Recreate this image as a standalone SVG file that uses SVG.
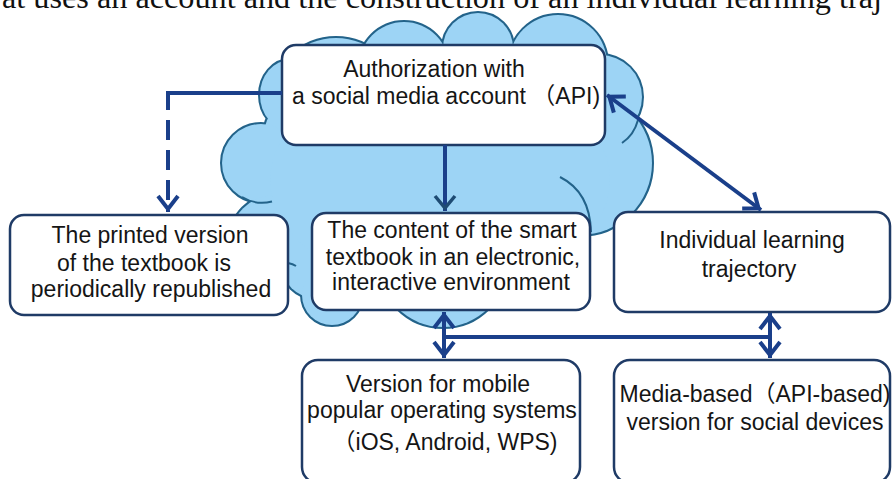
<svg xmlns="http://www.w3.org/2000/svg" xmlns:xlink="http://www.w3.org/1999/xlink" width="892" height="479" viewBox="0 0 892 479">
  <style>
    .box { fill: #ffffff; stroke: #1F3B66; stroke-width: 2.5; }
    .lbl { font-family: 'Liberation Sans', Arial, 'Noto Sans CJK SC', sans-serif; font-size: 23px; fill: #151515; text-anchor: middle; }
    .cl-edge { fill: #9DD4F5; stroke: #23638A; stroke-width: 4; }
    .cl-fill { fill: #9DD4F5; stroke: none; }
    .crease { fill: none; stroke: #23638A; stroke-width: 2; }
    .conn { fill: none; stroke: #1A3F8A; stroke-width: 4; }
  </style>
  <defs>
    <!-- overlapping lobes that make up the cloud -->
    <g id="cloudShapes">
      <circle cx="336" cy="102" r="64"/>
      <circle cx="404" cy="67" r="45"/>
      <circle cx="478" cy="48" r="35"/>
      <circle cx="558" cy="64" r="49"/>
      <circle cx="600" cy="97" r="42"/>
      <circle cx="580" cy="163" r="72"/>
      <ellipse cx="290" cy="95" rx="30" ry="35"/>
      <circle cx="290" cy="130" r="25"/>
      <circle cx="261" cy="163" r="39"/>
      <circle cx="275" cy="240" r="45"/>
      <circle cx="315" cy="265" r="33"/>
      <circle cx="332" cy="295" r="30"/>
      <circle cx="443" cy="263" r="64"/>
      <ellipse cx="440" cy="180" rx="170" ry="110"/>
    </g>
    <marker id="ah" markerUnits="userSpaceOnUse" viewBox="-20 -14 24 28" refX="0" refY="0" markerWidth="24" markerHeight="28" orient="auto-start-reverse" overflow="visible">
      <path d="M-16,-10 L-3,0 L-16,10" fill="none" stroke="#1A3F8A" stroke-width="4"/>
    </marker>
    <marker id="ah-teal" markerUnits="userSpaceOnUse" viewBox="-20 -14 24 28" refX="0" refY="0" markerWidth="24" markerHeight="28" orient="auto-start-reverse" overflow="visible">
      <path d="M-15,-10 L-3,0 L-15,10" fill="none" stroke="#1E4B73" stroke-width="3.5"/>
    </marker>
  </defs>

  <!-- running line of body text above the figure -->
  <text x="2" y="7.5" font-family="'Liberation Serif', 'Times New Roman', serif" font-size="32" fill="#111" textLength="880" lengthAdjust="spacingAndGlyphs">at uses an account and the construction of an individual learning traj</text>

  <!-- cloud background: stroked pass, then filled pass hides inner outlines -->
  <g id="cloud">
    <use xlink:href="#cloudShapes" class="cl-edge"/>
    <use xlink:href="#cloudShapes" class="cl-fill"/>
    <path class="crease" d="M242,197 A39,39 0 0 0 272,201.5"/>
    <path class="crease" d="M638,120 Q634,135 622,143"/>
    <path class="crease" d="M560,177 Q590,192 591,232"/>
    <path class="crease" d="M288,263 Q293,264 296,266"/>
  </g>

  <g id="auth">
    <rect class="box" x="282" y="45" width="323" height="100" rx="14"/>
    <text class="lbl" x="434" y="77">Authorization with</text>
    <text class="lbl" x="446" y="104">a social media account （API)</text>
  </g>

  <g id="printed">
    <rect class="box" x="10" y="215" width="278" height="100" rx="14"/>
    <text class="lbl" x="150" y="243">The printed version</text>
    <text class="lbl" x="144" y="271">of the textbook is</text>
    <text class="lbl" x="151" y="297">periodically republished</text>
  </g>

  <g id="content">
    <rect class="box" x="312" y="213" width="278" height="97" rx="14"/>
    <text class="lbl" x="452" y="238">The content of the smart</text>
    <text class="lbl" x="453" y="265">textbook in an electronic,</text>
    <text class="lbl" x="451" y="290">interactive environment</text>
  </g>

  <g id="trajectory">
    <rect class="box" x="614" y="212" width="276" height="100" rx="14"/>
    <text class="lbl" x="752" y="248">Individual learning</text>
    <text class="lbl" x="749" y="277">trajectory</text>
  </g>

  <g id="mobile">
    <rect class="box" x="302" y="360" width="278" height="123" rx="16"/>
    <text class="lbl" x="438" y="392">Version for mobile</text>
    <text class="lbl" x="442" y="418">popular operating systems</text>
    <text class="lbl" x="445" y="450">（iOS, Android, WPS)</text>
  </g>

  <g id="social">
    <rect class="box" x="614" y="360" width="276" height="123" rx="16"/>
    <text class="lbl" x="755" y="402">Media-based（API-based)</text>
    <text class="lbl" x="755" y="430">version for social devices</text>
  </g>

  <g id="connectors">
    <path class="conn" stroke-width="3.5" d="M282,93 H168 V212" stroke-dasharray="131 10 20 10 20 10 20 10" marker-end="url(#ah)"/>
    <path class="conn" stroke="#1E4B73" stroke-width="3.5" d="M445,145 V211" marker-end="url(#ah-teal)"/>
    <path class="conn" d="M607,95 L761,210" marker-start="url(#ah)" marker-end="url(#ah)"/>
    <path class="conn" d="M444,312 V358" marker-start="url(#ah)" marker-end="url(#ah)"/>
    <path class="conn" d="M444,337 H770"/>
    <path class="conn" d="M770,313 V358" marker-start="url(#ah)" marker-end="url(#ah)"/>
  </g>
</svg>
